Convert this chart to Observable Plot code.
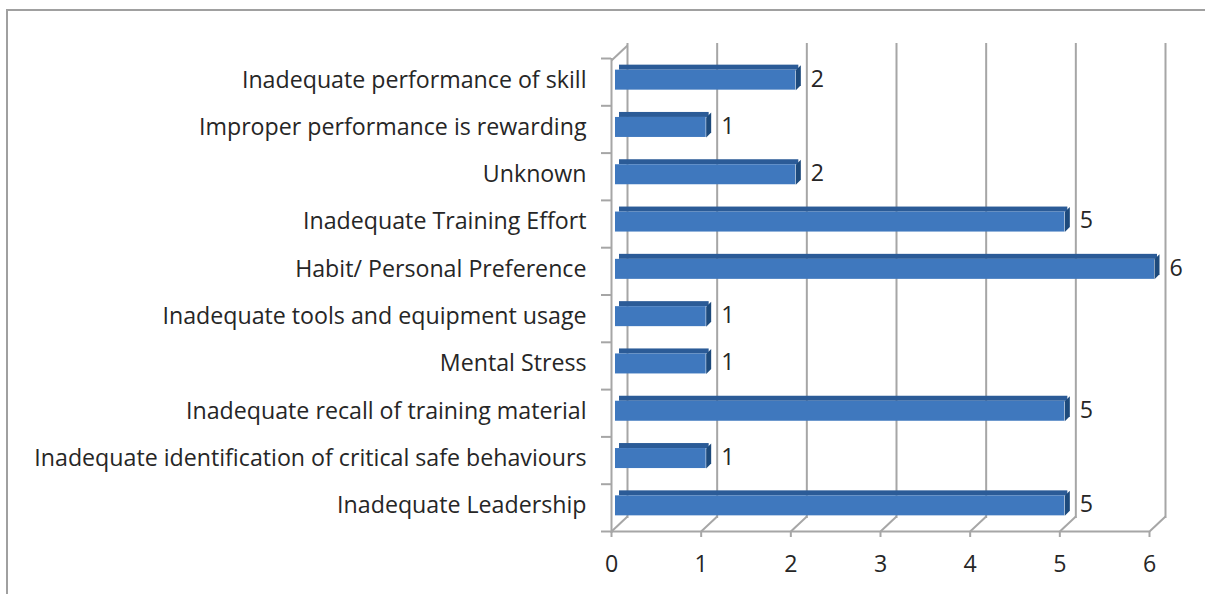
<!DOCTYPE html>
<html>
<head>
<meta charset="utf-8">
<script src="https://cdn.jsdelivr.net/npm/d3@7"></script>
<script src="https://cdn.jsdelivr.net/npm/@observablehq/plot@0.6"></script>
<style>
  html, body { margin: 0; padding: 0; background: #fff; }
  #wrap { position: relative; width: 1205px; height: 594px; overflow: hidden; }
  #chart { position: absolute; left: 0; top: 0; }
  #frame { position: absolute; left: 6px; top: 9px; width: 1300px; height: 700px;
           border-left: 2px solid #a0a0a0; border-top: 2px solid #a0a0a0; pointer-events: none; }
</style>
</head>
<body>
<div id="wrap"><div id="chart"></div><div id="frame"></div></div>
<script>
// categories listed top to bottom as in the chart
const categories = [
  "Inadequate performance of skill",
  "Improper performance is rewarding",
  "Unknown",
  "Inadequate Training Effort",
  "Habit/ Personal Preference",
  "Inadequate tools and equipment usage",
  "Mental Stress",
  "Inadequate recall of training material",
  "Inadequate identification of critical safe behaviours",
  "Inadequate Leadership"
];
const values = [2, 1, 2, 5, 6, 1, 1, 5, 1, 5];
const xTicks = [0, 1, 2, 3, 4, 5, 6];

const n = categories.length;
const rows = categories.map((c, i) => ({cat: c, value: values[i], lo: n - 1 - i}));
const boundaries = d3.range(0, n + 1);
const centers = rows.map(r => r.lo + 0.5);

const gridColor = "#a6a6a6";
const faceColor = "#3f78be";
const topColor = "#2b5b97";
const capColor = "#1d4a7c";
const textColor = "#262626";
const font = "'Open Sans', sans-serif";
const fs = 23.2;

// depth offset of the 3D back wall (pixels)
const DX = 16, DY = -15;
const diag = {draw(ctx) { ctx.moveTo(0, 0); ctx.lineTo(DX, DY); }};
const cap = {draw(ctx) { ctx.moveTo(0, -12); ctx.lineTo(5, -17); ctx.lineTo(5, 3); ctx.lineTo(0, 8); ctx.closePath(); }};

const chart = Plot.plot({
  width: 1205,
  height: 594,
  marginLeft: 611,
  marginRight: 56,
  marginTop: 58,
  marginBottom: 63,
  style: {fontFamily: font, background: "transparent", color: textColor},
  x: {domain: [0, 6], axis: null},
  y: {domain: [0, n], axis: null},
  marks: [
    // back wall gridlines
    Plot.ruleX(xTicks, {x: d => d, y1: 0, y2: n, dx: DX, dy: DY, insetTop: 2, stroke: gridColor, strokeWidth: 2}),
    // floor diagonals
    Plot.dot(xTicks, {x: d => d, y: 0, symbol: diag, fill: "none", stroke: gridColor, strokeWidth: 2}),
    // floor front edge
    Plot.ruleY([0], {x1: 0, x2: 6, stroke: gridColor, strokeWidth: 2}),
    // left wall front edge + top diagonal
    Plot.ruleX([0], {y1: 0, y2: n, insetTop: 2, stroke: gridColor, strokeWidth: 2}),
    Plot.dot([0], {x: d => d, y: n, dy: 2, symbol: diag, fill: "none", stroke: gridColor, strokeWidth: 2}),
    // category boundary ticks
    Plot.axisY(boundaries, {anchor: "left", label: null, tickSize: 10, tickFormat: () => "", stroke: gridColor, strokeWidth: 2}),
    // category labels
    Plot.axisY(centers, {anchor: "left", label: null, tickSize: 0, tickPadding: 25, dy: -2, fontSize: fs,
      tickFormat: v => categories[n - 1 - Math.floor(v)], fill: textColor}),
    // value axis
    Plot.axisX(xTicks, {anchor: "bottom", label: null, tickSize: 6, tickPadding: 18, fontSize: fs, stroke: gridColor, strokeWidth: 2, fill: textColor}),
    // bars: top bevel, face, end cap
    Plot.rect(rows, {x1: 0, x2: "value", y1: "lo", y2: d => d.lo + 1, dx: 8, insetTop: 6.65, insetBottom: 35.65, fill: topColor}),
    Plot.rect(rows, {x1: 0, x2: "value", y1: "lo", y2: d => d.lo + 1, dx: 5, insetLeft: -1, insetTop: 11.65, insetBottom: 15.65, fill: faceColor}),
    Plot.dot(rows, {x: "value", y: d => d.lo + 0.5, dx: 5, symbol: cap, fill: capColor, stroke: "none"}),
    // value labels
    Plot.text(rows, {x: "value", y: d => d.lo + 0.5, text: d => String(d.value), dx: 20, dy: -3,
      textAnchor: "start", fontSize: fs, fill: textColor})
  ]
});
document.getElementById("chart").appendChild(chart);
</script>
</body>
</html>
